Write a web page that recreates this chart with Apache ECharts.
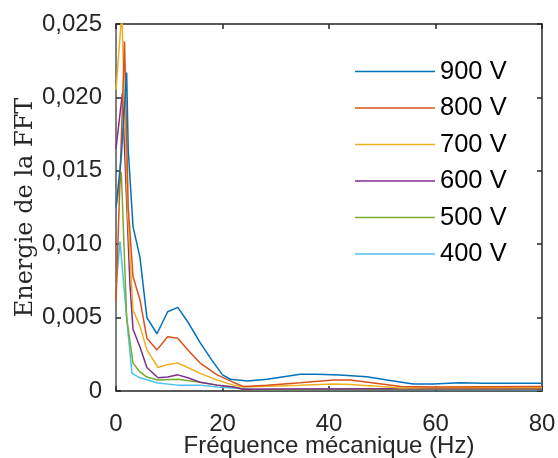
<!DOCTYPE html>
<html>
<head>
<meta charset="utf-8">
<script src="https://cdn.jsdelivr.net/npm/echarts@6/dist/echarts.min.js"></script>
<style>html,body{margin:0;padding:0;background:#fff}#c{width:558px;height:458px}</style>
</head>
<body>
<div id="c"></div>
<script>
var xTicks = [0, 20, 40, 60, 80];
var yTicks = [0, 0.005, 0.010, 0.015, 0.020, 0.025];
var seriesNames = ['900 V', '800 V', '700 V', '600 V', '500 V', '400 V'];
var colors = ['#0072BD', '#D95319', '#EDB120', '#7E2F8E', '#77AC30', '#4DBEEE'];

var f900 = [0, 1.0, 2.0, 2.3, 3.2, 4.5, 5.8, 7.7, 9.7, 11.6, 13.5, 15.8, 18.0, 20.0, 21.5, 24.7, 28.4, 34.6, 37.7, 42.0, 47.1, 50.9, 55.8, 59.5, 64.6, 68.9, 78.3, 80];
var v900 = [0.0125, 0.016, 0.0217, 0.0164, 0.0112, 0.0091, 0.0050, 0.0039, 0.0054, 0.0057, 0.0047, 0.0033, 0.0021, 0.0011, 0.0008, 0.00068, 0.0008, 0.00114, 0.00114, 0.00109, 0.00097, 0.00075, 0.00048, 0.00048, 0.00057, 0.00052, 0.00052, 0.00052];

var f800 = [0, 1.6, 2.3, 3.2, 4.5, 5.8, 7.7, 9.7, 11.6, 13.5, 15.8, 19.0, 22.0, 24.0, 28.4, 34.6, 40.8, 44.0, 48.4, 53.5, 59.5, 78.3, 80];
var v800 = [0.0061, 0.0238, 0.0125, 0.0078, 0.0062, 0.0036, 0.0028, 0.0037, 0.0036, 0.0028, 0.0019, 0.0011, 0.0006, 0.0003, 0.0004, 0.00057, 0.00075, 0.00075, 0.00054, 0.0003, 0.00027, 0.0003, 0.0003];

var f700 = [0, 1.1, 2.2, 3.2, 4.5, 5.8, 7.9, 9.7, 11.6, 13.5, 15.8, 19.0, 22.0, 24.0, 34.6, 40.8, 44.0, 48.4, 53.5, 59.5, 80];
var v700 = [0.0205, 0.0258, 0.012, 0.0055, 0.0044, 0.0028, 0.0016, 0.0018, 0.0019, 0.0016, 0.0012, 0.00075, 0.0004, 0.00027, 0.0004, 0.00048, 0.00045, 0.00034, 0.0002, 0.00022, 0.00022];

var f600 = [0, 1.2, 2.6, 3.2, 4.5, 5.8, 7.9, 9.7, 11.6, 13.5, 15.8, 19.0, 22.0, 24.0, 30.0, 50.0, 80];
var v600 = [0.0165, 0.0203, 0.0074, 0.0042, 0.0030, 0.0016, 0.0009, 0.00095, 0.0011, 0.0009, 0.0006, 0.0004, 0.00027, 0.00012, 0.00014, 0.00015, 0.00015];

var f500 = [0, 1.0, 2.0, 3.2, 4.5, 5.8, 7.9, 11.6, 15.8, 19.0, 22.0, 24.0, 30.0, 50.0, 80];
var v500 = [0.0125, 0.0149, 0.005, 0.0019, 0.0013, 0.00095, 0.00075, 0.0008, 0.0006, 0.0004, 0.00027, 0.0001, 0.00008, 0.00012, 0.00012];

var f400 = [0, 0.75, 2.0, 3.0, 4.5, 7.9, 11.6, 15.8, 19.0, 22.0, 26.0, 50.0, 80];
var v400 = [0.0071, 0.0102, 0.005, 0.0012, 0.0009, 0.00054, 0.0004, 0.0004, 0.00027, 0.0002, 0.0001, 0.0001, 0.00008];

var fs = [f900, f800, f700, f600, f500, f400];
var vs = [v900, v800, v700, v600, v500, v400];

function pairs(f, v) { return f.map(function (x, i) { return [x, v[i]]; }); }

var axisColor = '#262626';
var sans = 'Liberation Sans, Arial, sans-serif';
var chart = echarts.init(document.getElementById('c'), null, {renderer: 'canvas'});
var series = seriesNames.map(function (n, i) {
  return {
    name: n, type: 'line', data: pairs(fs[i], vs[i]),
    symbol: 'none', smooth: false, clip: true,
    lineStyle: {color: colors[i], width: 1.5},
    itemStyle: {color: colors[i]}
  };
});
series.reverse();

var yFmt = function (v) {
  if (Math.abs(v) < 1e-12) return '0';
  return v.toFixed(3).replace('.', ',');
};

chart.setOption({
  animation: false,
  backgroundColor: '#fff',
  grid: {left: 116, right: 16, top: 24, bottom: 67, containLabel: false, outerBoundsMode: 'none'},
  legend: {
    orient: 'vertical', left: 355, top: 58.5, padding: 0,
    data: seriesNames,
    icon: 'rect', itemWidth: 80, itemHeight: 1.5, itemGap: 10.5,
    textStyle: {fontFamily: sans, fontSize: 25.5, color: '#000', lineHeight: 25}
  },
  xAxis: [{
    type: 'value', min: 0, max: 80, interval: 20, position: 'bottom',
    name: 'Fréquence mécanique (Hz)', nameLocation: 'middle', nameGap: 43, nameMoveOverlap: false,
    nameTextStyle: {fontFamily: sans, fontSize: 24, color: '#262626'},
    axisLine: {show: true, onZero: false, lineStyle: {color: axisColor, width: 1.5}},
    axisTick: {show: true, inside: true, length: 5, lineStyle: {color: axisColor, width: 1.5}},
    axisLabel: {fontFamily: sans, fontSize: 24, color: '#262626', margin: 21,
      formatter: function (v) { return xTicks.indexOf(v) >= 0 ? String(v) : ''; }},
    splitLine: {show: false}
  }, {
    type: 'value', min: 0, max: 80, interval: 20, position: 'top',
    axisLine: {show: true, onZero: false, lineStyle: {color: axisColor, width: 1.5}},
    axisTick: {show: true, inside: true, length: 5, lineStyle: {color: axisColor, width: 1.5}},
    axisLabel: {show: false}, splitLine: {show: false}
  }],
  yAxis: [{
    type: 'value', min: 0, max: 0.025, interval: 0.005, position: 'left',
    name: 'Energie de la FFT', nameLocation: 'middle', nameGap: 78, nameRotate: 90, nameMoveOverlap: false,
    nameTextStyle: {fontFamily: 'DejaVu Serif', fontSize: 24, color: '#262626'},
    axisLine: {show: true, onZero: false, lineStyle: {color: '#555', width: 1.5}},
    axisTick: {show: true, inside: true, length: 5, lineStyle: {color: axisColor, width: 1.5}},
    axisLabel: {fontFamily: sans, fontSize: 24, color: '#262626', margin: 14,
      formatter: yFmt},
    splitLine: {show: false}
  }, {
    type: 'value', min: 0, max: 0.025, interval: 0.005, position: 'right',
    axisLine: {show: true, onZero: false, lineStyle: {color: axisColor, width: 1.5}},
    axisTick: {show: true, inside: true, length: 5, lineStyle: {color: axisColor, width: 1.5}},
    axisLabel: {show: false}, splitLine: {show: false}
  }],
  series: series
});
</script>
</body>
</html>
